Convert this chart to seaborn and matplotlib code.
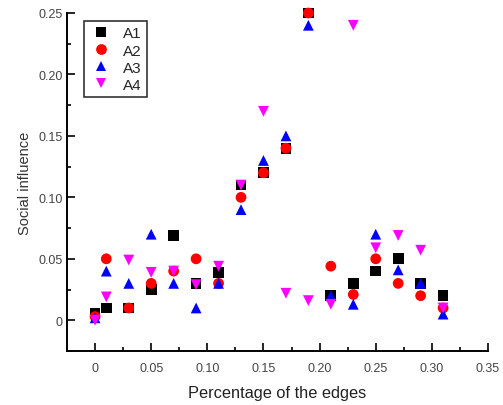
import numpy as np
import pandas as pd
import matplotlib
matplotlib.use("Agg")
import matplotlib.pyplot as plt
import seaborn as sns
from matplotlib.ticker import MultipleLocator

x = [0.0, 0.01, 0.03, 0.05, 0.07, 0.09, 0.11, 0.13, 0.15, 0.17, 0.19, 0.21, 0.23, 0.25, 0.27, 0.29, 0.31]
a1 = [0.006, 0.010, 0.010, 0.025, 0.069, 0.030, 0.039, 0.110, 0.120, 0.140, 0.250, 0.020, 0.030, 0.040, 0.050, 0.030, 0.020]
a2 = [0.003, 0.050, 0.010, 0.030, 0.040, 0.050, 0.030, 0.100, 0.120, 0.140, 0.250, 0.044, 0.021, 0.050, 0.030, 0.020, 0.010]
a3 = [0.002, 0.040, 0.030, 0.070, 0.030, 0.010, 0.030, 0.090, 0.130, 0.150, 0.240, 0.020, 0.013, 0.070, 0.041, 0.030, 0.005]
a4 = [0.000, 0.019, 0.049, 0.039, 0.040, 0.029, 0.044, 0.110, 0.170, 0.022, 0.016, 0.013, 0.240, 0.059, 0.069, 0.057, 0.010]
series = ["A1", "A2", "A3", "A4"]

df = pd.DataFrame({
    "x": x * 4,
    "y": a1 + a2 + a3 + a4,
    "series": sum([[s] * len(x) for s in series], []),
})

sns.set_style("ticks")
plt.rcParams["font.family"] = ["Liberation Sans", "DejaVu Sans"]

fig = plt.figure(figsize=(5.03, 4.06), dpi=100)
ax = fig.add_axes([67 / 503, 1 - 352 / 406, (488 - 67) / 503, (352 - 14) / 406])

palette = {"A1": "black", "A2": "red", "A3": "blue", "A4": "magenta"}
markers = {"A1": "s", "A2": "o", "A3": "^", "A4": "v"}
sns.scatterplot(data=df, x="x", y="y", hue="series", style="series",
                palette=palette, markers=markers, s=60, linewidth=0,
                ax=ax, legend=True, clip_on=False)

ax.set_xlim(-0.025, 0.35)
ax.set_ylim(-0.025, 0.25)
ax.xaxis.set_major_locator(MultipleLocator(0.05))
ax.xaxis.set_minor_locator(MultipleLocator(0.025))
ax.yaxis.set_major_locator(MultipleLocator(0.05))
ax.yaxis.set_minor_locator(MultipleLocator(0.025))
ax.set_xticks([0, 0.05, 0.10, 0.15, 0.20, 0.25, 0.30, 0.35])
ax.set_xticklabels(["0", "0.05", "0.10", "0.15", "0.20", "0.25", "0.30", "0.35"])
ax.set_yticks([0, 0.05, 0.10, 0.15, 0.20, 0.25])
ax.set_yticklabels(["0", "0.05", "0.10", "0.15", "0.20", "0.25"])
ax.tick_params(axis="x", which="major", pad=8)
ax.tick_params(axis="y", which="major", pad=3)
ax.tick_params(axis="both", which="major", direction="in", length=6, width=1.2,
               labelsize=9, labelcolor="#444444", color="black")
ax.tick_params(axis="both", which="minor", direction="in", length=3, width=1.2, color="black")
for side in ["top", "right"]:
    ax.spines[side].set_visible(False)
for side in ["left", "bottom"]:
    ax.spines[side].set_linewidth(1.4)
    ax.spines[side].set_color("black")

ax.set_xlabel("Percentage of the edges", fontsize=11.8, color="#222222", labelpad=8)
ax.set_ylabel("Social influence", fontsize=10.5, color="#333333", labelpad=5)

handles, labels = ax.get_legend_handles_labels()
leg = ax.legend(handles, labels, loc="upper left", bbox_to_anchor=(0.040, 0.976),
                borderaxespad=0, frameon=True, fancybox=False, edgecolor="black",
                fontsize=11, handletextpad=0.6, borderpad=0.35, labelspacing=0.2,
                handlelength=1.6, markerscale=1.0)
leg.get_frame().set_linewidth(1.2)

fig.savefig("out.png", dpi=100)
